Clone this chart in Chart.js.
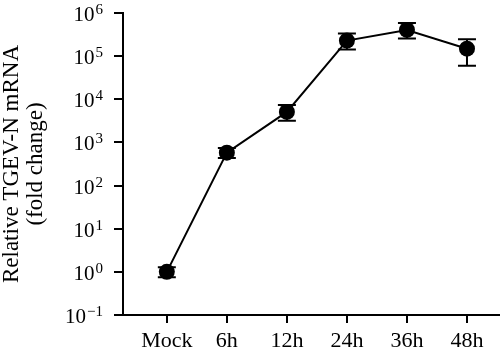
<!DOCTYPE html>
<html>
<head>
<meta charset="utf-8">
<script src="https://cdn.jsdelivr.net/npm/chart.js@4/dist/chart.umd.min.js"></script>
<style>
  html, body { margin: 0; padding: 0; background: #fff; }
  #wrap { width: 500px; height: 351px; }
</style>
</head>
<body>
<div id="wrap"><canvas id="chart"></canvas></div>
<script>
var categories = ['Mock', '6h', '12h', '24h', '36h', '48h'];
var means = [1, 580, 5090, 229000, 405000, 149000];
var upper = [1.28, 745, 7400, 333000, 589000, 247000];
var lower = [0.75, 436, 3180, 142000, 255000, 60200];
var yTicks = [0.1, 1, 10, 100, 1000, 10000, 100000, 1000000];

var serif = '"Liberation Serif", "DejaVu Serif", serif';

// error bars + power-of-ten tick labels with real superscripts
var extras = {
	id: 'extras',
	afterDatasetsDraw: function (chart) {
		var ctx = chart.ctx;
		var xs = chart.scales.x, ys = chart.scales.y;
		ctx.save();
		ctx.strokeStyle = '#000';
		ctx.lineWidth = 2;
		for (var i = 0; i < means.length; i++) {
			var x = xs.getPixelForValue(i);
			var yt = ys.getPixelForValue(upper[i]);
			var yb = ys.getPixelForValue(lower[i]);
			ctx.beginPath();
			ctx.moveTo(x, yt); ctx.lineTo(x, yb);
			ctx.moveTo(x - 9, yt); ctx.lineTo(x + 9, yt);
			ctx.moveTo(x - 9, yb); ctx.lineTo(x + 9, yb);
			ctx.stroke();
		}
		ctx.restore();
	},
	afterDraw: function (chart) {
		var ctx = chart.ctx;
		var ys = chart.scales.y;
		var right = ys.right - 20;
		ctx.save();
		ctx.fillStyle = '#000';
		ctx.textAlign = 'right';
		ctx.textBaseline = 'alphabetic';
		yTicks.forEach(function (v) {
			var y = ys.getPixelForValue(v);
			var e = String(Math.round(Math.log10(v))).replace('-', '\u2212');
			ctx.font = '15px ' + serif;
			var ew = ctx.measureText(e).width;
			ctx.fillText(e, right, y + 1);
			ctx.font = '21px ' + serif;
			ctx.fillText('10', right - ew - 1, y + 8);
		});
		ctx.restore();
	}
};

new Chart(document.getElementById('chart'), {
	type: 'line',
	data: {
		datasets: [{
			data: means.map(function (v, i) { return {x: i, y: v}; }),
			borderColor: '#000',
			borderWidth: 2,
			backgroundColor: '#000',
			pointRadius: 8,
			pointHoverRadius: 8,
			pointBackgroundColor: '#000',
			pointBorderWidth: 0,
			clip: false
		}]
	},
	options: {
		responsive: true,
		maintainAspectRatio: false,
		animation: false,
		layout: { autoPadding: false, padding: { top: 13, right: 0, left: 0, bottom: 0 } },
		plugins: {
			legend: { display: false },
			tooltip: { enabled: false }
		},
		scales: {
			x: {
				type: 'linear',
				min: -0.73,
				max: 5.55,
				afterBuildTicks: function (scale) {
					scale.ticks = categories.map(function (c, i) { return {value: i}; });
				},
				afterFit: function (scale) {
					scale.height = 36;
					scale.paddingLeft = 0;
					scale.paddingRight = 0;
				},
				ticks: {
					color: '#000',
					font: { family: serif, size: 22 },
					padding: 5,
					maxRotation: 0,
					autoSkip: false,
					callback: function (v) { return categories[v]; }
				},
				grid: { drawOnChartArea: false, drawTicks: true, tickLength: 8, color: '#000', lineWidth: 2 },
				border: { display: true, color: '#000', width: 2 }
			},
			y: {
				type: 'logarithmic',
				min: 0.1,
				max: 1000000,
				afterBuildTicks: function (scale) {
					scale.ticks = yTicks.map(function (v) { return {value: v}; });
				},
				afterFit: function (scale) {
					scale.width = 123;
					scale.paddingTop = 0;
					scale.paddingBottom = 0;
				},
				ticks: {
					color: 'rgba(0,0,0,0)',
					font: { family: serif, size: 20 },
					padding: 5,
					autoSkip: false,
					callback: function (v) { return '10'; }
				},
				grid: { drawOnChartArea: false, drawTicks: true, tickLength: 9, color: '#000', lineWidth: 2 },
				border: { display: true, color: '#000', width: 2 },
				title: {
					display: true,
					text: ['Relative TGEV-N mRNA', '(fold change)'],
					color: '#000',
					font: { family: serif, size: 23, lineHeight: 1.05 },
					padding: { top: 0, bottom: 0 }
				}
			}
		}
	},
	plugins: [extras]
});
</script>
</body>
</html>
